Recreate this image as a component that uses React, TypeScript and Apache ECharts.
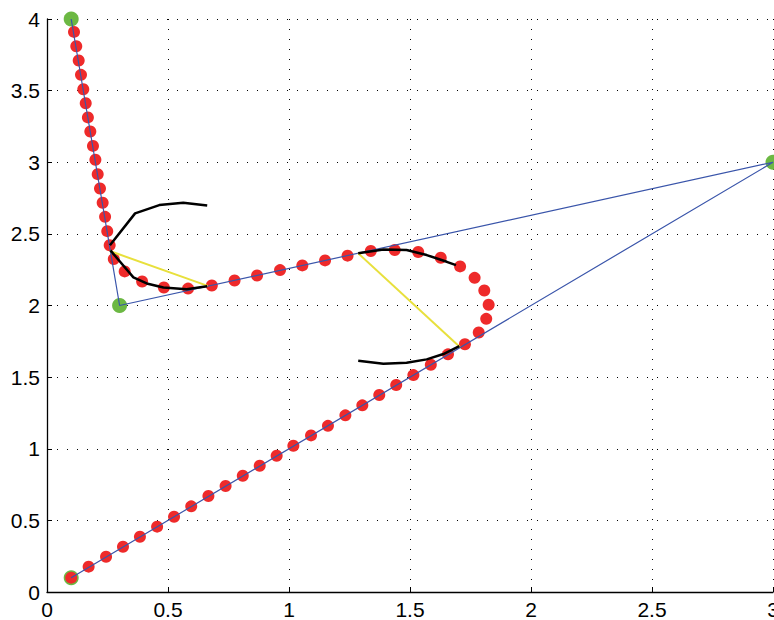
import React, { useEffect, useRef } from "react";
import * as echarts from "echarts";

// Control polygon (green points, blue polyline)
const controlPts: number[][] = [
  [0.1, 0.1],
  [3.0, 3.0],
  [0.3, 2.0],
  [0.1, 4.0],
];

// Red sample points, ordered from (0.1, 0.1) to the top
const lowerLinePts: number[][] = [
  [0.1, 0.1], [0.172, 0.177], [0.244, 0.246], [0.314, 0.316], [0.384, 0.386],
  [0.455, 0.456], [0.525, 0.525], [0.596, 0.598], [0.667, 0.67], [0.738, 0.74],
  [0.809, 0.812], [0.879, 0.881], [0.949, 0.951], [1.018, 1.021], [1.091, 1.093],
  [1.161, 1.16], [1.233, 1.233], [1.303, 1.303], [1.373, 1.375], [1.443, 1.445],
  [1.514, 1.514], [1.586, 1.586], [1.657, 1.659], [1.727, 1.729],
];
const loopPts: number[][] = [
  [1.784, 1.812], [1.815, 1.907], [1.825, 2.005], [1.807, 2.105], [1.767, 2.193],
  [1.707, 2.273], [1.627, 2.333], [1.534, 2.373], [1.437, 2.387], [1.338, 2.38],
];
const middleLinePts: number[][] = [
  [1.242, 2.348], [1.149, 2.315], [1.055, 2.28], [0.963, 2.247], [0.868, 2.209],
  [0.775, 2.175], [0.681, 2.14],
];
const bendPts: number[][] = [
  [0.583, 2.118], [0.483, 2.126], [0.393, 2.168], [0.321, 2.238], [0.276, 2.324],
];
const upperLinePts: number[][] = [
  [0.259, 2.421], [0.249, 2.519], [0.24, 2.619], [0.23, 2.717], [0.219, 2.817],
  [0.2095, 2.917], [0.2, 3.017], [0.19, 3.114], [0.179, 3.215], [0.169, 3.313],
  [0.16, 3.412], [0.15, 3.51], [0.1405, 3.61], [0.131, 3.71], [0.121, 3.81],
  [0.1116, 3.91],
];

// Yellow chords between tangent points
const chordA: number[][] = [[1.286, 2.364], [1.706, 1.71]];
const chordB: number[][] = [[0.26, 2.38], [0.664, 2.137]];

// Black curves
const blackA1: number[][] = [[0.26, 2.42], [0.364, 2.643], [0.464, 2.701], [0.563, 2.717], [0.662, 2.698]];
const blackA2: number[][] = [[0.262, 2.385], [0.302, 2.305], [0.357, 2.196], [0.412, 2.154], [0.481, 2.126], [0.577, 2.114], [0.662, 2.135]];
const blackB1: number[][] = [[1.286, 2.364], [1.39, 2.391], [1.486, 2.387], [1.569, 2.352], [1.652, 2.305], [1.69, 2.282]];
const blackB2: number[][] = [[1.286, 1.614], [1.39, 1.593], [1.486, 1.6], [1.569, 1.624], [1.638, 1.661], [1.704, 1.717]];

const xTicks = { min: 0, max: 3, interval: 0.5 };
const yTicks = { min: 0, max: 4, interval: 0.5 };

const FONT = "'Liberation Sans', Arial, Helvetica, sans-serif";

export default function App() {
  const ref = useRef<HTMLDivElement>(null);
  useEffect(() => {
    if (!ref.current) return;
    const chart = echarts.init(ref.current, undefined, { renderer: "svg" });
    const axisCommon = {
      type: "value" as const,
      axisLine: { show: true, onZero: false, lineStyle: { color: "#000", width: 1.3 } },
      axisTick: { show: true, inside: true, length: 5, lineStyle: { color: "#000" } },
      axisLabel: { color: "#000", fontSize: 21, lineHeight: 20, fontFamily: FONT, margin: 7 },
      splitLine: { show: true, lineStyle: { type: [1, 9], color: "#000", width: 1 } },
    };
    const blackLine = (d: number[][]) => ({
      type: "line", data: d, symbol: "none",
      lineStyle: { color: "#000", width: 2.5 }, silent: true,
    });
    const yellowLine = (d: number[][]) => ({
      type: "line", data: d, symbol: "none",
      lineStyle: { color: "#e8e03c", width: 2 }, silent: true,
    });
    chart.setOption({
      animation: false,
      grid: {
        left: 47, right: 1, top: 19, bottom: 28,
        containLabel: false, outerBoundsMode: "none",
      },
      xAxis: { ...axisCommon, ...xTicks },
      yAxis: { ...axisCommon, ...yTicks },
      series: [
        {
          type: "line", data: controlPts, symbol: "none",
          lineStyle: { color: "#3a55aa", width: 1.2 },
        },
        yellowLine(chordA),
        yellowLine(chordB),
        blackLine(blackA1),
        blackLine(blackA2),
        blackLine(blackB1),
        blackLine(blackB2),
        {
          type: "scatter", data: controlPts, symbolSize: 15,
          itemStyle: { color: "#6cb843", opacity: 1 },
        },
        {
          type: "scatter",
          data: [...lowerLinePts, ...loopPts, ...middleLinePts, ...bendPts, ...upperLinePts],
          symbolSize: 12,
          itemStyle: { color: "#ee2a2a", opacity: 1 },
        },
      ],
    });
    return () => chart.dispose();
  }, []);
  return (
    <div
      ref={ref}
      style={{ position: "fixed", left: 0, top: 0, width: 774, height: 620, background: "#fff" }}
    />
  );
}
